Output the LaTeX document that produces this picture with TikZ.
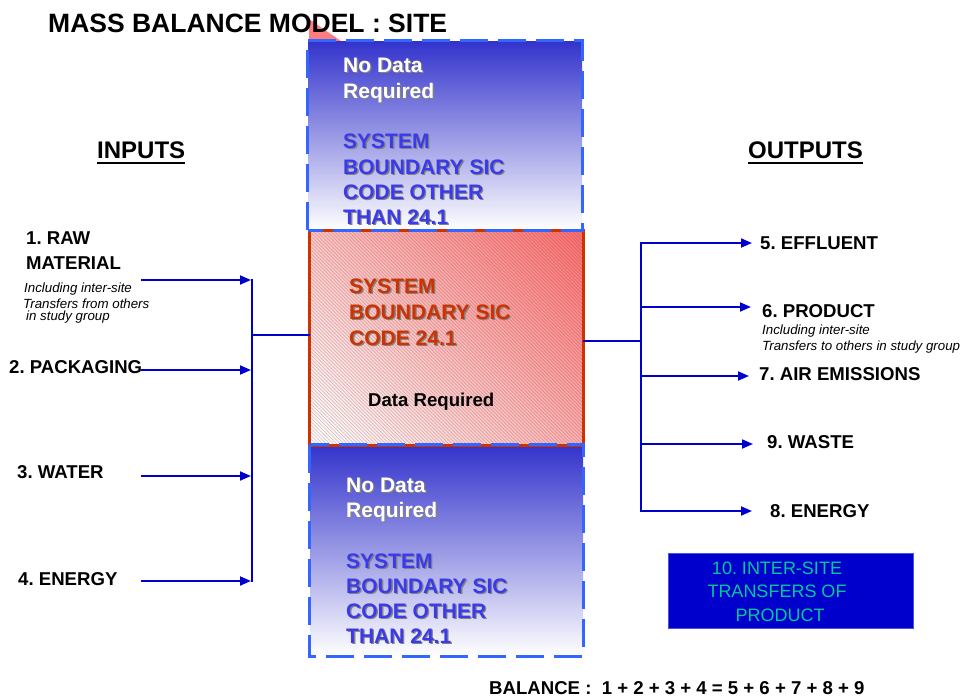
\documentclass[tikz,border=0pt]{standalone}
\usepackage{fontspec}
\setmainfont{Liberation Sans}
\usetikzlibrary{arrows.meta,shadings}
\frenchspacing

\definecolor{flowblue}{RGB}{0,0,204}
\definecolor{dashblue}{RGB}{51,102,255}
\definecolor{deepblue}{RGB}{51,51,204}
\definecolor{sysblue}{RGB}{58,58,235}
\definecolor{coreline}{RGB}{204,51,0}
\definecolor{pinkhi}{RGB}{255,110,110}
\definecolor{pinkul}{RGB}{255,195,195}
\definecolor{pinklr}{RGB}{255,175,175}
\definecolor{tabpink}{RGB}{255,125,125}
\definecolor{hatchgrey}{RGB}{90,60,60}
\definecolor{transferbox}{RGB}{0,0,204}
\definecolor{transferedge}{RGB}{80,80,230}
\definecolor{transfertext}{RGB}{0,200,150}
\definecolor{shadowgrey}{RGB}{130,130,130}

\tikzset{
  mblabel/.style={anchor=base west, inner sep=0pt, font=\fontsize{18.6}{18.6}\selectfont\bfseries},
  mbnote/.style={anchor=base west, inner sep=0pt, font=\fontsize{13.3}{13.3}\selectfont\itshape},
  mbtitle/.style={anchor=base west, inner sep=0pt, font=\fontsize{26.5}{26.5}\selectfont\bfseries},
  mbhead/.style={anchor=base west, inner sep=0pt, font=\fontsize{24}{24}\selectfont\bfseries},
  boxline/.style={anchor=base west, inner sep=0pt, font=\fontsize{21}{21}\selectfont\bfseries},
  whiteline/.style={boxline, text=white},
  blueline/.style={boxline, text=sysblue},
  redline/.style={boxline, text=coreline},
  txtshadow/.style={text=shadowgrey},
  flow/.style={draw=flowblue, line width=1.8pt},
  flowarrow/.style={flow, -{Triangle[length=11pt,width=9pt]}},
  outerbox/.style={rectangle, inner sep=0pt, top color=deepblue, bottom color=white},
  dashedge/.style={draw=dashblue, line width=3pt, dash pattern=on 28pt off 10pt},
  corebox/.style={rectangle, inner sep=0pt,
    upper left=pinkul, upper right=pinkhi, lower left=white, lower right=pinklr},
  coreedge/.style={draw=coreline, line width=3pt},
  hatch/.style={draw=hatchgrey, line width=0.5pt, draw opacity=0.3},
  transfer/.style={rectangle, inner sep=0pt, fill=transferbox, draw=transferedge, line width=0.8pt},
  transferline/.style={anchor=base, inner sep=0pt, text=transfertext, font=\fontsize{18}{18}\selectfont},
}

% text line with a grey drop shadow: name, x, y, style, text
\newcommand\castline[5]{%
  \node[#4, txtshadow] (#1-s) at (#2+1.3,#3+1.3) {#5};
  \node[#4] (#1) at (#2,#3) {#5};}

\begin{document}
\begin{tikzpicture}[x=1pt, y=-1pt]
\useasboundingbox (0,0) rectangle (962,697);

% corner tab behind the title
\fill[tabpink] (309,19) -- (309,41) -- (341,41) -- cycle;
\node[mbtitle] (title) at (48,32) {MASS BALANCE MODEL : SITE};

% headings
\node[mbhead] (inputs) at (97,158) {INPUTS};
\draw[line width=2pt] ([yshift=-5pt]inputs.base west) -- ([yshift=-5pt]inputs.base east);
\node[mbhead] (outputs) at (748,158) {OUTPUTS};
\draw[line width=2pt] ([yshift=-5pt]outputs.base west) -- ([yshift=-5pt]outputs.base east);

% system boundary boxes
\node[outerbox, minimum width=274pt, minimum height=189pt] (upper) at (445,135.5) {};
\node[outerbox, minimum width=273pt, minimum height=211pt] (lower) at (446.5,550.5) {};
\node[corebox, minimum width=273pt, minimum height=214pt] (core) at (446.5,338) {};
% fine diagonal hatching over the core box
\begin{scope}
  \clip (core.north west) rectangle (core.south east);
  \foreach \h in {0,3.5,...,500} {
    \draw[hatch] (310-214+\h,231) -- (310+\h,445);
  }
\end{scope}
\draw[coreedge] (core.north west) rectangle (core.south east);
\draw[dashedge] (upper.south west) rectangle (upper.north east);
\draw[dashedge] (lower.north west) rectangle (lower.south east);

% upper box text
\castline{u1}{343}{72}{whiteline}{No Data}
\castline{u2}{343}{98}{whiteline}{Required}
\castline{u3}{343}{148}{blueline}{SYSTEM}
\castline{u4}{343}{174}{blueline}{BOUNDARY SIC}
\castline{u5}{343}{199}{blueline}{CODE OTHER}
\castline{u6}{343}{224}{blueline}{THAN 24.1}

% core box text
\castline{c1}{349}{293}{redline}{SYSTEM}
\castline{c2}{349}{319}{redline}{BOUNDARY SIC}
\castline{c3}{349}{345}{redline}{CODE 24.1}
\node[mblabel] (datareq) at (368,406) {Data Required};

% lower box text
\castline{l1}{346}{492}{whiteline}{No Data}
\castline{l2}{346}{517}{whiteline}{Required}
\castline{l3}{346}{568}{blueline}{SYSTEM}
\castline{l4}{346}{593}{blueline}{BOUNDARY SIC}
\castline{l5}{346}{618}{blueline}{CODE OTHER}
\castline{l6}{346}{643}{blueline}{THAN 24.1}

% inputs
\node[mblabel] (raw1) at (26,244) {1. RAW};
\node[mblabel] (raw2) at (26,269) {MATERIAL};
\node[mbnote] (rawn1) at (24,292) {Including inter-site};
\node[mbnote] (rawn2) at (23,308) {Transfers from others};
\node[mbnote] (rawn3) at (26,320) {in study group};
\node[mblabel] (pack) at (9,373) {2. PACKAGING};
\node[mblabel] (water) at (17,478) {3. WATER};
\node[mblabel] (energyin) at (18,585) {4. ENERGY};

\coordinate (i1) at (141,280);  \coordinate (ib1) at (251,280);
\coordinate (i2) at (141,370);  \coordinate (ib2) at (251,370);
\coordinate (i3) at (141,476);  \coordinate (ib3) at (251,476);
\coordinate (i4) at (141,581);  \coordinate (ib4) at (251,581);
\coordinate (ibt) at (252,279); \coordinate (ibb) at (252,582);
\coordinate (ibm) at (252,335);

\draw[flowarrow] (i1) -- (ib1);
\draw[flowarrow] (i2) -- (ib2);
\draw[flowarrow] (i3) -- (ib3);
\draw[flowarrow] (i4) -- (ib4);
\draw[flow] (ibt) -- (ibb);
\draw[flow] (ibm) -- (ibm -| core.west);

% outputs
\coordinate (obm) at (641,341);
\coordinate (obt) at (641,242); \coordinate (obb) at (641,512);
\coordinate (o5) at (641,243); \coordinate (ot5) at (752,243);
\coordinate (o6) at (641,307); \coordinate (ot6) at (751,307);
\coordinate (o7) at (641,376); \coordinate (ot7) at (749,376);
\coordinate (o9) at (641,444); \coordinate (ot9) at (753,444);
\coordinate (o8) at (641,511); \coordinate (ot8) at (752,511);

\draw[flow] (obm -| core.east) -- (obm);
\draw[flow] (obt) -- (obb);
\draw[flowarrow] (o5) -- (ot5);
\draw[flowarrow] (o6) -- (ot6);
\draw[flowarrow] (o7) -- (ot7);
\draw[flowarrow] (o9) -- (ot9);
\draw[flowarrow] (o8) -- (ot8);

\node[mblabel] (effluent) at (760,249) {5. EFFLUENT};
\node[mblabel] (product) at (762,317) {6. PRODUCT};
\node[mbnote] (prodn1) at (762,334) {Including inter-site};
\node[mbnote] (prodn2) at (762,350) {Transfers to others in study group};
\node[mblabel] (air) at (759,380) {7. AIR EMISSIONS};
\node[mblabel] (waste) at (767,448) {9. WASTE};
\node[mblabel] (energyout) at (770,517) {8. ENERGY};

% inter-site transfers box
\node[transfer, minimum width=245pt, minimum height=75pt] (transfer) at (790.5,590.5) {};
\node[transferline] (t1) at (777,574) {10. INTER-SITE};
\node[transferline] (t2) at (777,597.5) {TRANSFERS OF};
\node[transferline] (t3) at (780,621) {PRODUCT};

% balance equation
\node[mblabel] (balance) at (489,694) {BALANCE :\ \ 1 + 2 + 3 + 4 = 5 + 6 + 7 + 8 + 9};
\end{tikzpicture}
\end{document}
